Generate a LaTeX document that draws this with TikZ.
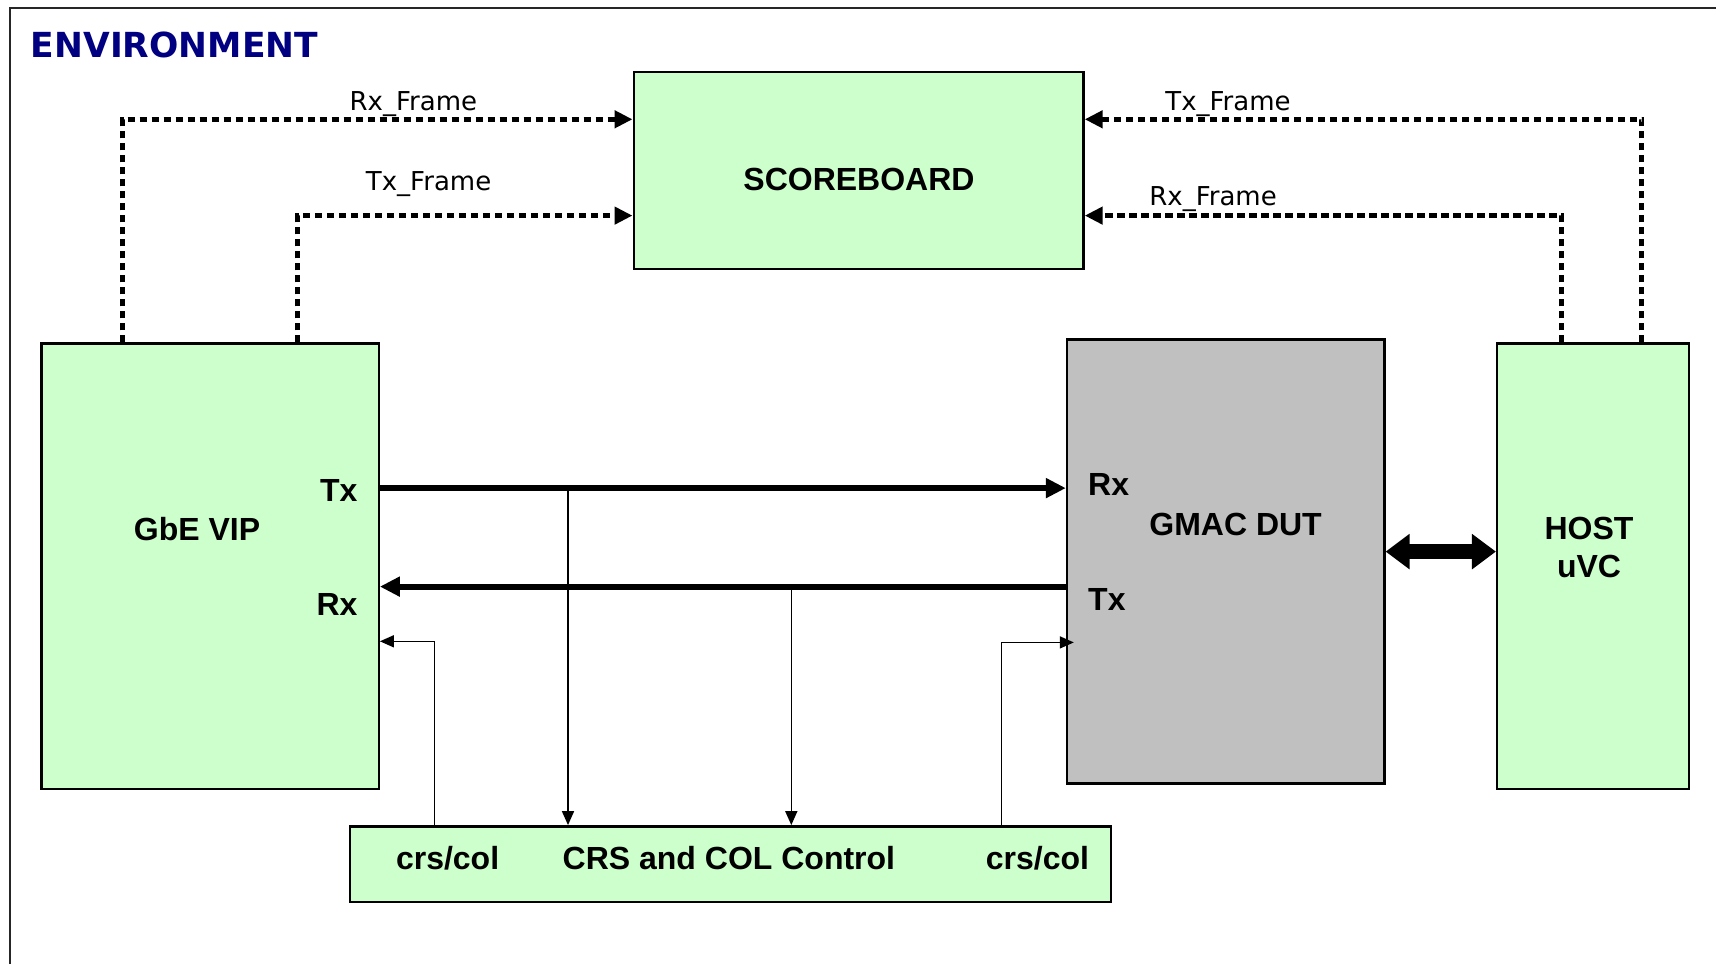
\documentclass[tikz,border=0pt]{standalone}
\usepackage{fontspec}
\setmainfont{Liberation Sans}
\newfontfamily\dvs{DejaVu Sans}
\usetikzlibrary{arrows.meta}
\definecolor{boxgreen}{RGB}{204,255,204}
\definecolor{dutgray}{RGB}{192,192,192}
\definecolor{envnavy}{RGB}{0,0,128}
\begin{document}
\begin{tikzpicture}[x=0.5pt,y=-0.5pt,
  box/.style={draw=black, line width=1.2pt, fill=boxgreen, inner sep=0pt},
  graybox/.style={box, fill=dutgray},
  lbl/.style={font=\fontsize{16}{19}\selectfont\bfseries, inner sep=0pt},
  flbl/.style={font=\dvs\fontsize{13}{15}\selectfont, inner sep=0pt, anchor=base},
  dotline/.style={line width=2.6pt, dash pattern=on 3.6pt off 2.4pt, -{Triangle[length=9pt,width=8.5pt]}},
  busline/.style={line width=3pt, -{Triangle[length=10pt,width=9.5pt]}},
  sigline/.style={line width=0.8pt, -{Triangle[length=7pt,width=6pt]}},
  hostlink/.style={line width=7.5pt, {Triangle[length=12pt,width=17pt]}-{Triangle[length=12pt,width=17pt]}}
]
\useasboundingbox (0,0) rectangle (1716,964);
% outer frame
\draw[line width=1.2pt, black!85] (9.8,964) -- (9.8,7.7) -- (1716,7.7);
\node[anchor=base west, inner sep=0pt, text=envnavy, font=\dvs\bfseries\fontsize{17.25}{20}\selectfont] (env) at (30.6,57) {ENVIRONMENT};

% boxes
\node[box, minimum width=224.9pt, minimum height=98.5pt] (sb) at (858.6,170.7) {};
\node[box, minimum width=168.55pt, minimum height=222.75pt] (gbe) at (210.15,566.35) {};
\node[graybox, minimum width=158.7pt, minimum height=222.15pt] (dut) at (1225.7,561.45) {};
\node[box, minimum width=95.8pt, minimum height=222.75pt] (host) at (1592.9,566.35) {};
\node[box, minimum width=380.3pt, minimum height=37.75pt] (crs) at (730.5,864.05) {};

% box texts
\node[lbl] (sbt) at (859,179.5) {SCOREBOARD};
\node[lbl] (gbet) at (197,528.6) {GbE VIP};
\node[lbl, anchor=east] (gtx) at (357.9,490.3) {Tx};
\node[lbl, anchor=east] (grx) at (357.9,604.1) {Rx};
\node[lbl] (dutt) at (1235.6,524.2) {GMAC DUT};
\node[lbl, anchor=west] (drx) at (1087.8,484.8) {Rx};
\node[lbl, anchor=west] (dtx) at (1087.8,599.7) {Tx};
\node[lbl, align=center] (hostt) at (1589,547) {HOST\\uVC};
\node[lbl] (crsl) at (447.6,858) {crs/col};
\node[lbl] (crst) at (728.9,858) {CRS and COL Control};
\node[lbl] (crsr) at (1037.5,858) {crs/col};

% frame connectors
\coordinate (rfl) at (122.6,119.3);
\coordinate (tfl) at (297.7,215.6);
\coordinate (tfr) at (1641.6,119.3);
\coordinate (rfr) at (1561.7,215.6);
\draw[dotline] (gbe.north -| rfl) |- (sb.west |- rfl);
\draw[dotline] (gbe.north -| tfl) |- (sb.west |- tfl);
\draw[dotline] (host.north -| tfr) |- (sb.east |- tfr);
\draw[dotline] (host.north -| rfr) |- (sb.east |- rfr);
\node[flbl] (l1) at (413.4,110) {Rx\_Frame};
\node[flbl] (l2) at (428.6,190.7) {Tx\_Frame};
\node[flbl] (l3) at (1228,110) {Tx\_Frame};
\node[flbl] (l4) at (1213,205) {Rx\_Frame};

% data buses
\coordinate (txy) at (0,488.1);
\coordinate (rxy) at (0,586.6);
\draw[busline] (gbe.east |- txy) -- (dut.west |- txy);
\draw[busline] (dut.west |- rxy) -- (gbe.east |- rxy);

% taps to CRS/COL control
\coordinate (v1) at (568,0);
\coordinate (v2) at (791.3,0);
\draw[sigline] (v1 |- txy) -- (crs.north -| v1);
\draw[sigline] (v2 |- rxy) -- (crs.north -| v2);
\coordinate (c1) at (434.5,641.3);
\coordinate (c2) at (1001.4,642.4);
\draw[sigline] (crs.north -| c1) |- (gbe.east |- c1);
\draw[sigline] (crs.north -| c2) |- ([xshift=4pt]dut.west |- c2);

% host link
\coordinate (hy) at (0,551.6);
\draw[hostlink] (dut.east |- hy) -- (host.west |- hy);
\end{tikzpicture}
\end{document}
